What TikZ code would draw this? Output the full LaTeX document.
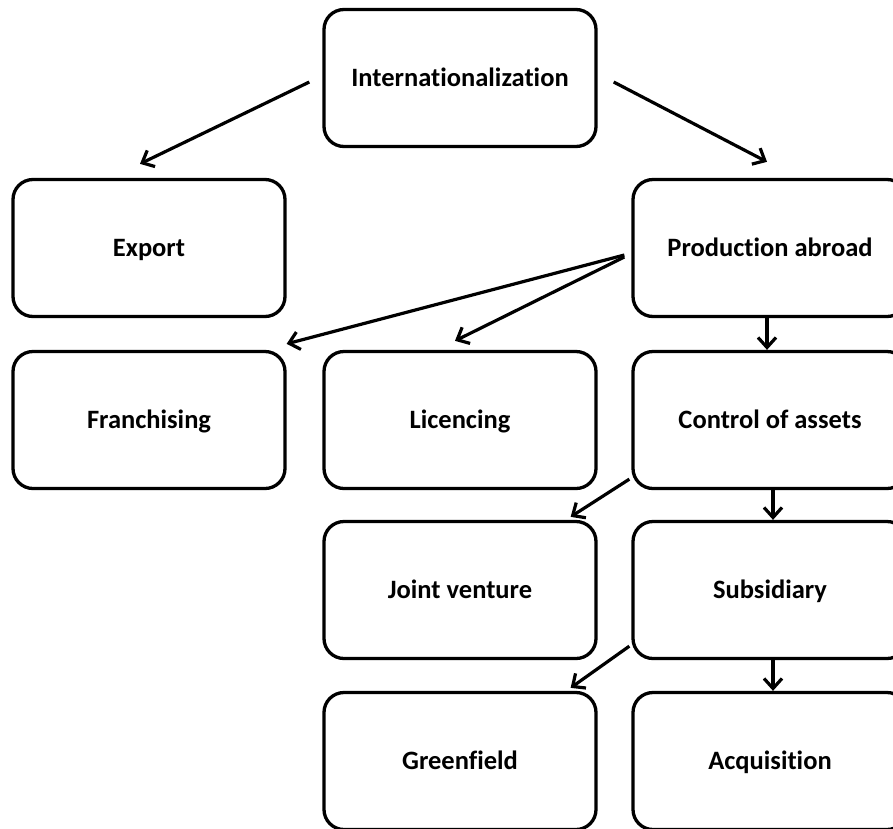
\documentclass[tikz,border=0pt]{standalone}
\usepackage{fontspec}
\setmainfont{Carlito}[Ligatures=NoCommon]
\usetikzlibrary{arrows.meta,calc}
\begin{document}
\begin{tikzpicture}[x=1pt,y=-1pt,
  box/.style={draw=black, line width=3.3pt, rounded corners=20pt, fill=white,
    minimum width=272pt, minimum height=137pt, inner sep=0pt,
    text height=17pt, text depth=0pt,
    font=\fontsize{26.5}{30}\selectfont\bfseries},
  arr/.style={line width=3.2pt, -{Straight Barb[length=10pt,width=18pt]}}]
\useasboundingbox (0,0) rectangle (893,828);
\clip (0,0) rectangle (893,828);
\node[box] (intl)   at (460,78)  {Internationalization};
\node[box] (export) at (149,248) {Export};
\node[box, minimum width=274pt] (prod) at (770,248) {Production abroad};
\node[box] (franch) at (149,420) {Franchising};
\node[box] (lic)    at (460,420) {Licencing};
\node[box, minimum width=274pt] (ctrl) at (770,420) {Control of assets};
\node[box] (jv)     at (460,590) {Joint venture};
\node[box, minimum width=274pt] (sub)  at (770,590) {Subsidiary};
\node[box] (green)  at (460,761) {Greenfield};
\node[box, minimum width=274pt] (acq)  at (770,761) {Acquisition};
\draw[arr] ($(intl.west)+(-13,4)$) -- ($(export.north)+(-9,-14)$);
\draw[arr] ($(intl.east)+(16,4)$) -- ($(prod.north)+(-3,-16)$);
\draw[arr] ($(prod.west)+(-7,7)$) -- ($(franch.north east)+(0,-6)$);
\draw[arr] ($(prod.west)+(-7,9)$) -- ($(lic.north)+(-5,-9)$);
\draw[arr] ($(prod.south)+(-3,0)$) -- ($(ctrl.north)+(-3,0)$);
\draw[arr] ($(ctrl.south west)+(-2,-11)$) -- ($(jv.north east)+(-27,-3)$);
\draw[arr] ($(ctrl.south)+(3,0)$) -- ($(sub.north)+(3,0)$);
\draw[arr] ($(sub.south west)+(-2,-14)$) -- ($(green.north east)+(-27,-3)$);
\draw[arr] ($(sub.south)+(3,0)$) -- ($(acq.north)+(3,0)$);
\end{tikzpicture}
\end{document}
